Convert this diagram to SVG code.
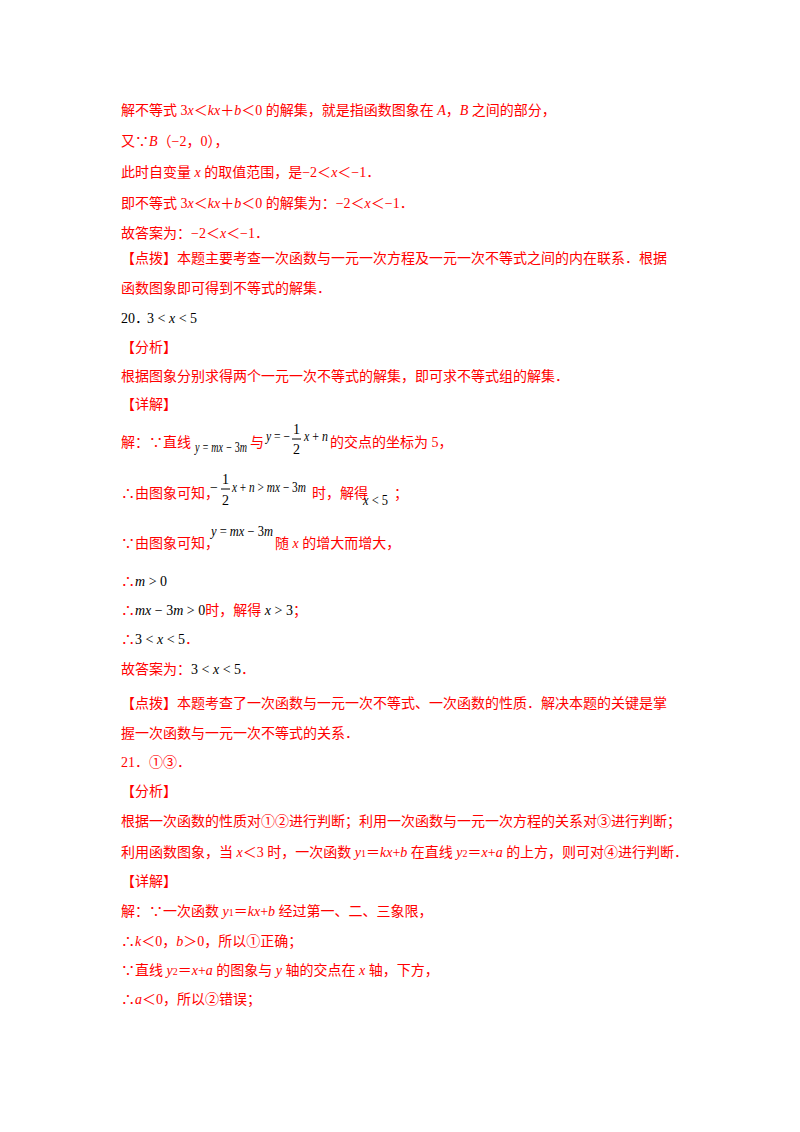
<svg xmlns="http://www.w3.org/2000/svg" width="800" height="1132" viewBox="0 0 800 1132">
<style>
text{font-family:"Liberation Serif","Noto Sans CJK SC",serif;font-size:14px;fill:#ff0000}
.k{fill:#000}
.i{font-style:italic}
.s{font-size:10px}
</style>
<rect width="800" height="1132" fill="#fff"/>
<g id="p19">
<text x="121" y="115">解不等式 3<tspan class="i">x</tspan>＜<tspan class="i">kx</tspan>＋<tspan class="i">b</tspan>＜0 的解集，就是指函数图象在 <tspan class="i">A</tspan>，<tspan class="i">B</tspan> 之间的部分，</text>
<text x="121" y="146">又∵<tspan class="i">B</tspan>（−2，0），</text>
<text x="121" y="177">此时自变量 <tspan class="i">x</tspan> 的取值范围，是−2＜<tspan class="i">x</tspan>＜−1．</text>
<text x="121" y="208">即不等式 3<tspan class="i">x</tspan>＜<tspan class="i">kx</tspan>＋<tspan class="i">b</tspan>＜0 的解集为：−2＜<tspan class="i">x</tspan>＜−1．</text>
<text x="121" y="238">故答案为：−2＜<tspan class="i">x</tspan>＜−1．</text>
<text x="121" y="263">【点拨】本题主要考查一次函数与一元一次方程及一元一次不等式之间的内在联系．根据</text>
<text x="121" y="293">函数图象即可得到不等式的解集．</text>
</g>
<g id="p20">
<text x="121" y="323" class="k">20．<tspan x="147">3 &lt; </tspan><tspan class="i">x</tspan> &lt; 5</text>
<text x="121" y="352">【分析】</text>
<text x="121" y="381">根据图象分别求得两个一元一次不等式的解集，即可求不等式组的解集．</text>
<text x="121" y="409">【详解】</text>
<text x="121" y="447">解：∵直线</text>
<text x="195" y="452" class="k i" textLength="52" lengthAdjust="spacingAndGlyphs">y = mx − <tspan font-style="normal">3</tspan>m</text>
<text x="250" y="447">与</text>
<text x="266" y="441" class="k" textLength="24" lengthAdjust="spacingAndGlyphs"><tspan class="i">y</tspan> = −</text>
<text x="293" y="434" class="k" font-size="12">1</text>
<line x1="292" y1="439" x2="301" y2="439" stroke="#000"/>
<text x="293" y="454" class="k" font-size="12">2</text>
<text x="304" y="441" class="k" textLength="24" lengthAdjust="spacingAndGlyphs"><tspan class="i">x</tspan> + <tspan class="i">n</tspan></text>
<text x="330" y="447">的交点的坐标为 5，</text>
<text x="121" y="498">∴由图象可知，</text>
<text x="210" y="492" class="k">−</text>
<text x="222" y="484" class="k" font-size="12">1</text>
<line x1="221" y1="489" x2="230" y2="489" stroke="#000"/>
<text x="222" y="505" class="k" font-size="12">2</text>
<text x="232" y="492" class="k" textLength="74" lengthAdjust="spacingAndGlyphs"><tspan class="i">x</tspan> + <tspan class="i">n</tspan> &gt; <tspan class="i">mx</tspan> − 3<tspan class="i">m</tspan></text>
<text x="312" y="498">时，解得</text>
<text x="363" y="505" class="k" textLength="25" lengthAdjust="spacingAndGlyphs"><tspan class="i">x</tspan> &lt; 5</text>
<text x="394" y="498">；</text>
<text x="121" y="548">∵由图象可知，</text>
<text x="211" y="536" class="k" textLength="62" lengthAdjust="spacingAndGlyphs"><tspan class="i">y</tspan> = <tspan class="i">mx</tspan> − 3<tspan class="i">m</tspan></text>
<text x="275" y="548">随 <tspan class="i">x</tspan> 的增大而增大，</text>
<text x="121" y="586">∴<tspan class="k"><tspan class="i">m</tspan> &gt; 0</tspan></text>
<text x="121" y="615">∴<tspan class="k"><tspan class="i">mx</tspan> − 3<tspan class="i">m</tspan> &gt; 0</tspan>时，解得 <tspan class="k"><tspan class="i">x</tspan> &gt; 3</tspan>；</text>
<text x="121" y="644">∴<tspan class="k">3 &lt; <tspan class="i">x</tspan> &lt; 5</tspan>．</text>
<text x="121" y="674">故答案为：<tspan class="k">3 &lt; <tspan class="i">x</tspan> &lt; 5</tspan>．</text>
<text x="121" y="708">【点拨】本题考查了一次函数与一元一次不等式、一次函数的性质．解决本题的关键是掌</text>
<text x="121" y="738">握一次函数与一元一次不等式的关系．</text>
</g>
<g id="p21">
<text x="121" y="767">21．①③．</text>
<text x="121" y="796">【分析】</text>
<text x="121" y="826">根据一次函数的性质对①②进行判断；利用一次函数与一元一次方程的关系对③进行判断；</text>
<text x="121" y="857">利用函数图象，当 <tspan class="i">x</tspan>＜3 时，一次函数 <tspan class="i">y</tspan><tspan class="s">1</tspan>＝<tspan class="i">kx</tspan>+<tspan class="i">b</tspan> 在直线 <tspan class="i">y</tspan><tspan class="s">2</tspan>＝<tspan class="i">x</tspan>+<tspan class="i">a</tspan> 的上方，则可对④进行判断．</text>
<text x="121" y="886">【详解】</text>
<text x="121" y="916">解：∵一次函数 <tspan class="i">y</tspan><tspan class="s">1</tspan>＝<tspan class="i">kx</tspan>+<tspan class="i">b</tspan> 经过第一、二、三象限，</text>
<text x="121" y="946">∴<tspan class="i">k</tspan>＜0，<tspan class="i">b</tspan>＞0，所以①正确；</text>
<text x="121" y="975">∵直线 <tspan class="i">y</tspan><tspan class="s">2</tspan>＝<tspan class="i">x</tspan>+<tspan class="i">a</tspan> 的图象与 <tspan class="i">y</tspan> 轴的交点在 <tspan class="i">x</tspan> 轴，下方，</text>
<text x="121" y="1004">∴<tspan class="i">a</tspan>＜0，所以②错误；</text>
</g>
</svg>
